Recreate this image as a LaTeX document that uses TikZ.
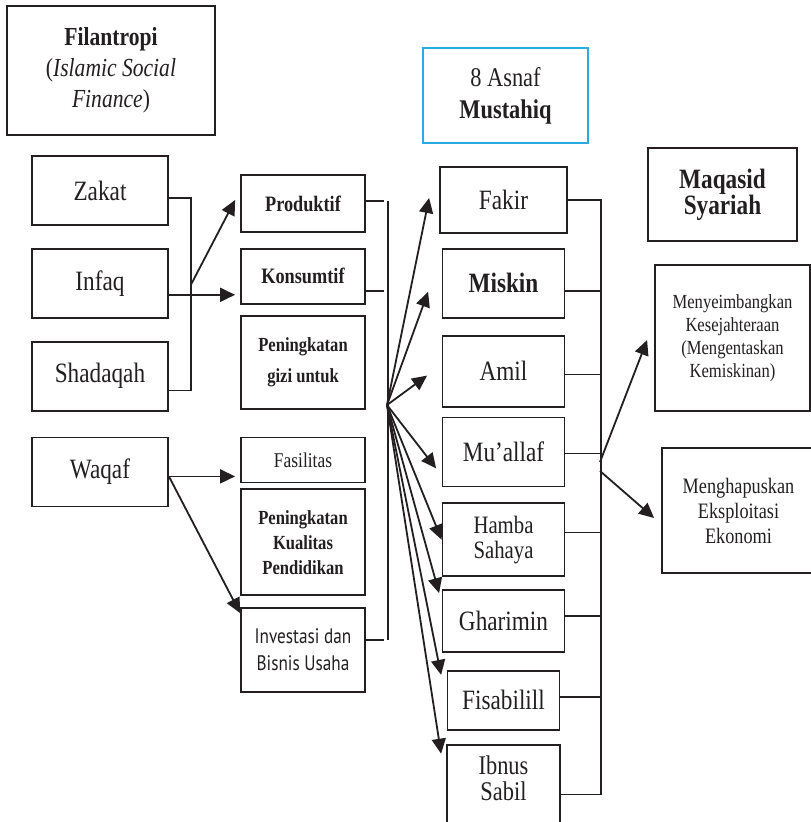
\documentclass[tikz,border=0pt]{standalone}
\usepackage{fontspec}
\setmainfont{Liberation Serif}[FakeStretch=0.83]
\newfontfamily\investfont{PT Sans}[FakeStretch=0.82]
\usetikzlibrary{positioning,arrows.meta}
\definecolor{ink}{RGB}{35,31,32}
\definecolor{asnafblue}{RGB}{41,171,226}

\begin{document}
\begin{tikzpicture}[
  x=1pt, y=-1pt,
  node distance=14pt,
  %--- boxes ---
  box/.style={draw=ink, line width=1.8pt, align=center, inner sep=0pt, text=ink},
  srcbox/.style={box, minimum width=136pt, minimum height=69pt, font=\fontsize{28}{30}\selectfont},
  usebox/.style={box, minimum width=124pt},
  asnafbox/.style={box, minimum width=122pt, font=\fontsize{28}{30}\selectfont},
  goalbox/.style={box, minimum width=155pt},
  %--- connectors ---
  link/.style={draw=ink, line width=1.4pt},
  arr/.style={-{Triangle[length=15pt,width=14pt]}, line width=1.8pt, draw=ink}
]

%% -- title boxes --
\useasboundingbox (0,0) rectangle (811,822);
\clip (0,0) rectangle (811,822);

\node[box, minimum width=208pt, minimum height=129pt, font=\fontsize{26}{31}\selectfont]
  (filan) at (111,70.5) {\textbf{Filantropi}\\(\textit{Islamic Social}\\\textit{Finance})};

\node[box, draw=asnafblue, line width=1.5pt, minimum width=165pt, minimum height=95pt,
  font=\fontsize{27}{32}\selectfont] (asnaf) at (505.5,95.5) {8 Asnaf\\\textbf{Mustahiq}};

\node[box, minimum width=149pt, minimum height=93pt, font=\fontsize{28}{25}\selectfont\bfseries]
  (maqasid) at (722.5,194.5) {Maqasid\\Syariah};

%% -- sources --
\node[srcbox] (zakat) at (100,190.5) {Zakat};
\node[srcbox, below=22pt of zakat] (infaq) {Infaq};
\node[srcbox, below=22pt of infaq] (shad) {Shadaqah};
\node[srcbox, below=25pt of shad] (waqaf) {Waqaf};

%% -- uses --
\node[usebox, minimum height=57pt, font=\fontsize{22}{24}\selectfont\bfseries]
  (prod) at (303,203.5) {Produktif};
\node[usebox, minimum height=55pt, font=\fontsize{22}{24}\selectfont\bfseries,
  below=15pt of prod] (kons) {Konsumtif};
\node[usebox, minimum height=93pt, font=\fontsize{20}{31}\selectfont\bfseries,
  below=10pt of kons] (gizi) {Peningkatan\\gizi untuk};
\node[usebox, minimum height=45pt, font=\fontsize{21}{23}\selectfont,
  below=27pt of gizi] (fasil) {Fasilitas};
\node[usebox, minimum height=106pt, font=\fontsize{20}{25}\selectfont\bfseries,
  below=5pt of fasil] (kual) {Peningkatan\\Kualitas\\Pendidikan};
\node[usebox, minimum height=84pt, font=\investfont\fontsize{21}{27}\selectfont,
  below=11pt of kual] (inves) {Investasi dan\\Bisnis Usaha};

%% -- 8 asnaf --
\node[asnafbox, minimum width=127pt, minimum height=66pt] (fakir) at (503.5,200) {Fakir};
\node[asnafbox, minimum height=69pt, below=of fakir] (miskin) {\textbf{Miskin}};
\node[asnafbox, minimum height=71pt, below=16pt of miskin] (amil) {Amil};
\node[asnafbox, minimum height=69pt, below=9pt of amil] (muallaf) {Mu’allaf};
\node[asnafbox, minimum height=73pt, font=\fontsize{25}{25}\selectfont,
  below=15pt of muallaf] (hamba) {Hamba\\Sahaya};
\node[asnafbox, minimum height=62pt, below=12pt of hamba] (ghar) {Gharimin};
\node[asnafbox, minimum width=112pt, minimum height=59pt, below=17pt of ghar] (fisa) {Fisabilill};
\node[asnafbox, minimum width=113pt, minimum height=118pt, font=\fontsize{27}{26}\selectfont,
  below=13pt of fisa] (ibnus) {Ibnus\\Sabil\rule[-50pt]{0pt}{50pt}};

%% -- maqasid goals --
\node[goalbox, minimum height=146pt, font=\fontsize{20}{23}\selectfont]
  (meny) at (732.5,338) {Menyeimbangkan\\Kesejahteraan\\(Mengentaskan\\Kemiskinan)};
\node[goalbox, minimum width=153pt, minimum height=125pt, font=\fontsize{22}{25}\selectfont]
  (mengh) at (738.5,510.5) {Menghapuskan\\Eksploitasi\\Ekonomi};

%% -- sources to uses --
\draw[link] ([yshift=-7.5pt]zakat.east) -- ++(22,0) |- ([yshift=-14.5pt]shad.east);
\draw[arr] ([yshift=-11.5pt]infaq.east) -- ([xshift=-5pt,yshift=-18.5pt]kons.west);
\draw[arr] ([xshift=22pt,yshift=-1.5pt]infaq.east) -- ([xshift=-5pt,yshift=3.5pt]prod.west);
\draw[arr] ([yshift=-4.5pt]waqaf.east) -- ([xshift=-5pt,yshift=-16.5pt]fasil.west);
\draw[arr] ([yshift=-4.5pt]waqaf.east) -- ([yshift=-6pt]inves.north west);

%% -- uses to asnaf --
\draw[link] ([yshift=2.5pt]prod.east) -- ++(18,0);
\draw[link] ([yshift=-14.5pt]kons.east) -- ++(18,0);
\draw[link] ([yshift=10pt]inves.east) -- ++(18,0);
\draw[link] ([xshift=22pt,yshift=2.5pt]prod.east) -- ([xshift=22pt,yshift=10pt]inves.east);

\coordinate (fan) at (387,405);
\draw[arr] (fan) -- ([xshift=-10pt,yshift=2pt]fakir.west);
\draw[arr] (fan) -- ([xshift=-13.5pt,yshift=-8.5pt]miskin.west);
\draw[arr] (fan) -- ([xshift=-14.5pt,yshift=-4.5pt]amil.west);
\draw[arr] (fan) -- ([xshift=-5.5pt,yshift=-16.5pt]muallaf.west);
\draw[arr] (fan) -- (hamba.west);
\draw[arr] (fan) -- ([xshift=-2.5pt,yshift=-4pt]ghar.north west);
\draw[arr] (fan) -- ([xshift=-5.5pt,yshift=-5pt]fisa.north west);
\draw[arr] (fan) -- ([xshift=-5pt,yshift=-10pt]ibnus.north west);

%% -- asnaf to maqasid --
\draw[link] (fakir.east) -- ++(33,0) coordinate (spineR) |- ([yshift=9pt]ibnus.east);
\draw[link] ([yshift=-7.5pt]miskin.east) -| (spineR);
\draw[link] ([yshift=-3.5pt]amil.east) -| (spineR);
\draw[link] ([yshift=-1.5pt]muallaf.east) -| (spineR);
\draw[link] ([yshift=7.5pt]hamba.east) -| (spineR);
\draw[link] ([yshift=5pt]ghar.east) -| (spineR);
\draw[link] ([yshift=3.5pt]fisa.east) -| (spineR);

\coordinate (jointA) at (600,462);
\coordinate (jointB) at (600,471);
\draw[arr] (jointA) -- ([xshift=-7pt,yshift=-2pt]meny.west);
\draw[arr] (jointB) -- ([xshift=-7pt,yshift=-7.5pt]mengh.west);
\end{tikzpicture}
\end{document}
